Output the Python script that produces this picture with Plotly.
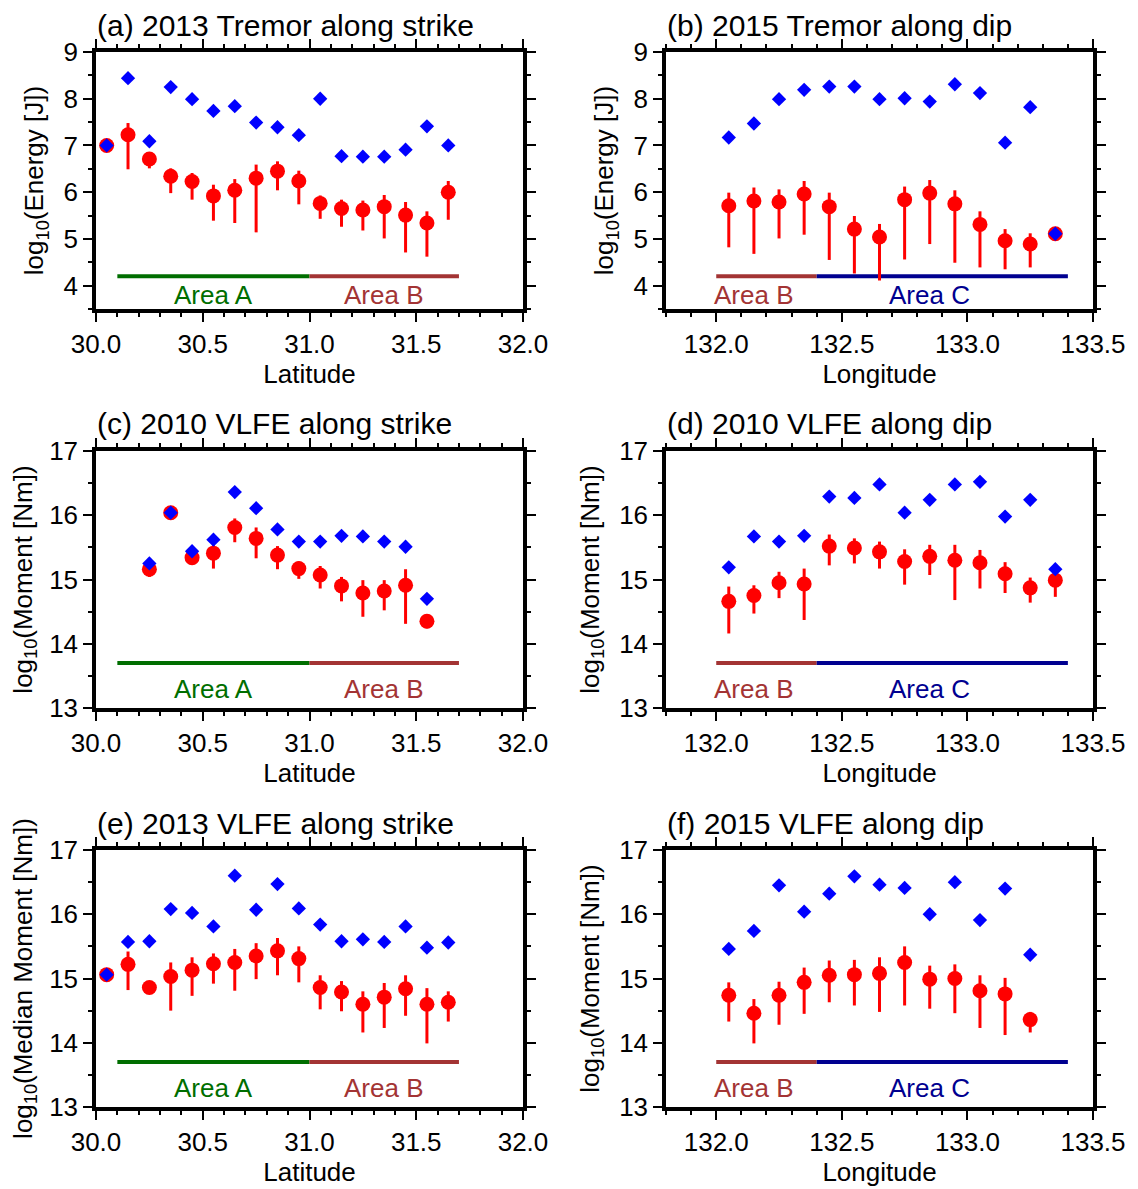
import plotly.graph_objects as go

# ---------------- data ----------------
A_lat = [30.05, 30.15, 30.25, 30.35, 30.45, 30.55, 30.65, 30.75, 30.85, 30.95,
         31.05, 31.15, 31.25, 31.35, 31.45, 31.55, 31.65]
A_med = [7.00, 7.23, 6.71, 6.34, 6.23, 5.92, 6.04, 6.30, 6.45, 6.24, 5.76, 5.65, 5.62, 5.69, 5.51, 5.34, 6.00]
A_hi = [7.00, 7.48, 6.84, 6.51, 6.41, 6.16, 6.28, 6.59, 6.66, 6.46, 5.93, 5.84, 5.82, 5.94, 5.79, 5.59, 6.24]
A_lo = [7.00, 6.49, 6.51, 5.98, 5.84, 5.39, 5.34, 5.14, 6.04, 5.74, 5.43, 5.26, 5.18, 5.01, 4.71, 4.62, 5.41]
A_max = [7.00, 8.44, 7.09, 8.25, 7.99, 7.74, 7.84, 7.49, 7.39, 7.22, 8.00, 6.77, 6.76, 6.76, 6.91, 7.41, 7.00]

B_lon = [132.05, 132.15, 132.25, 132.35, 132.45, 132.55, 132.65, 132.75, 132.85, 132.95,
         133.05, 133.15, 133.25, 133.35]
B_med = [5.71, 5.81, 5.79, 5.96, 5.69, 5.21, 5.04, 5.84, 5.98, 5.75, 5.31, 4.96, 4.89, 5.11]
B_hi = [5.99, 6.10, 6.06, 6.24, 5.99, 5.49, 5.32, 6.12, 6.26, 6.04, 5.59, 5.21, 5.12, 5.11]
B_lo = [4.82, 4.68, 5.01, 5.09, 4.55, 4.26, 4.11, 4.56, 4.89, 4.49, 4.39, 4.35, 4.39, 5.11]
B_max = [7.17, 7.47, 7.99, 8.19, 8.26, 8.26, 7.99, 8.01, 7.94, 8.31, 8.12, 7.06, 7.82, 5.11]

C_lat = [30.25, 30.35, 30.45, 30.55, 30.65, 30.75, 30.85, 30.95, 31.05, 31.15,
         31.25, 31.35, 31.45, 31.55]
C_med = [15.16, 16.04, 15.34, 15.41, 15.81, 15.64, 15.38, 15.17, 15.07, 14.90, 14.79, 14.82, 14.91, 14.35]
C_hi = [15.22, 16.04, 15.43, 15.59, 15.95, 15.81, 15.52, 15.28, 15.21, 15.04, 14.99, 14.99, 15.16, 14.41]
C_lo = [15.04, 16.04, 15.28, 15.17, 15.58, 15.33, 15.16, 15.01, 14.86, 14.66, 14.42, 14.52, 14.31, 14.24]
C_max = [15.25, 16.04, 15.44, 15.62, 16.36, 16.11, 15.78, 15.59, 15.59, 15.68, 15.67, 15.59, 15.51, 14.70]

D_lon = [132.05, 132.15, 132.25, 132.35, 132.45, 132.55, 132.65, 132.75, 132.85, 132.95,
         133.05, 133.15, 133.25, 133.35]
D_med = [14.66, 14.75, 14.95, 14.93, 15.52, 15.49, 15.43, 15.28, 15.36, 15.30, 15.26, 15.09, 14.87, 14.99]
D_hi = [14.89, 14.91, 15.12, 15.17, 15.70, 15.64, 15.59, 15.47, 15.54, 15.54, 15.46, 15.27, 15.03, 15.16]
D_lo = [14.16, 14.47, 14.71, 14.37, 15.22, 15.25, 15.17, 14.92, 15.07, 14.68, 14.86, 14.79, 14.64, 14.73]
D_max = [15.19, 15.67, 15.59, 15.68, 16.29, 16.27, 16.48, 16.04, 16.24, 16.48, 16.52, 15.98, 16.24, 15.16]

E_lat = [30.05, 30.15, 30.25, 30.35, 30.45, 30.55, 30.65, 30.75, 30.85, 30.95,
         31.05, 31.15, 31.25, 31.35, 31.45, 31.55, 31.65]
E_med = [15.06, 15.22, 14.86, 15.03, 15.13, 15.23, 15.25, 15.35, 15.43, 15.31, 14.86, 14.79, 14.60, 14.71, 14.84, 14.60, 14.63]
E_hi = [15.06, 15.42, 14.90, 15.25, 15.33, 15.39, 15.46, 15.55, 15.63, 15.50, 15.05, 14.96, 14.80, 14.93, 15.05, 14.85, 14.80]
E_lo = [15.06, 14.82, 14.77, 14.50, 14.73, 14.92, 14.81, 14.99, 15.05, 14.94, 14.52, 14.49, 14.16, 14.23, 14.42, 13.99, 14.33]
E_max = [15.06, 15.57, 15.58, 16.08, 16.02, 15.81, 16.60, 16.07, 16.47, 16.09, 15.84, 15.58, 15.61, 15.57, 15.81, 15.48, 15.56]

F_lon = [132.05, 132.15, 132.25, 132.35, 132.45, 132.55, 132.65, 132.75, 132.85, 132.95,
         133.05, 133.15, 133.25]
F_med = [14.74, 14.46, 14.74, 14.94, 15.05, 15.06, 15.08, 15.25, 14.99, 15.00, 14.81, 14.76, 14.36]
F_hi = [14.94, 14.68, 14.95, 15.17, 15.28, 15.29, 15.33, 15.50, 15.20, 15.22, 15.05, 15.01, 14.48]
F_lo = [14.33, 13.99, 14.28, 14.45, 14.63, 14.58, 14.48, 14.58, 14.53, 14.46, 14.23, 14.12, 14.16]
F_max = [15.46, 15.74, 16.45, 16.04, 16.32, 16.59, 16.46, 16.41, 16.00, 16.50, 15.91, 16.40, 15.37]

titles = ["(a) 2013 Tremor along strike", "(b) 2015 Tremor along dip",
          "(c) 2010 VLFE along strike", "(d) 2010 VLFE along dip",
          "(e) 2013 VLFE along strike", "(f) 2015 VLFE along dip"]
ytitles = ["log<sub>10</sub>(Energy [J])", "log<sub>10</sub>(Energy [J])",
           "log<sub>10</sub>(Moment [Nm])", "log<sub>10</sub>(Moment [Nm])",
           "log<sub>10</sub>(Median Moment [Nm])", "log<sub>10</sub>(Moment [Nm])"]
xtitles = ["Latitude", "Longitude"] * 3

strike_areas = [("Area A", 30.1, 31.0, 30.55), ("Area B", 31.0, 31.7, 31.35)]
dip_areas = [("Area B", 132.0, 132.4, 132.15), ("Area C", 132.4, 133.4, 132.85)]
area_colors = {"Area A": "#006e00", "Area B": "#a33434", "Area C": "#000090"}

# ---------------- layout geometry ----------------
# the page body has an 8px margin, so the figure is placed 8px in from the corner
OFF = 8
W, H = 1138 - OFF, 1189 - OFF
cols = [(96 - OFF, 523 - OFF), (666 - OFF, 1093 - OFF)]
rows = [(52 - OFF, 309 - OFF), (451 - OFF, 708 - OFF), (850 - OFF, 1107 - OFF)]
FONT = "Liberation Sans, Arial, Helvetica, sans-serif"
FS = 26

panels = [
    (A_lat, A_med, A_hi, A_lo, A_max),
    (B_lon, B_med, B_hi, B_lo, B_max),
    (C_lat, C_med, C_hi, C_lo, C_max),
    (D_lon, D_med, D_hi, D_lo, D_max),
    (E_lat, E_med, E_hi, E_lo, E_max),
    (F_lon, F_med, F_hi, F_lo, F_max),
]

fig = go.Figure()
layout = dict(width=W, height=H, margin=dict(l=0, r=0, t=0, b=0, autoexpand=False),
              paper_bgcolor="white", plot_bgcolor="white", showlegend=False,
              font=dict(family=FONT, size=FS, color="black"))
annotations = []

for i, (xs, med, hi, lo, mx) in enumerate(panels):
    n = i + 1
    r, c = divmod(i, 2)
    xa = "x" if n == 1 else f"x{n}"
    ya = "y" if n == 1 else f"y{n}"
    strike = (c == 0)
    energy = (r == 0)
    yline = 4.2 if energy else 13.7
    ylab = 3.8 if energy else 13.3
    areas = strike_areas if strike else dip_areas

    for name, x0, x1, xc in areas:
        fig.add_trace(go.Scatter(x=[x0, x1], y=[yline, yline], mode="lines",
                                 line=dict(color=area_colors[name], width=4),
                                 xaxis=xa, yaxis=ya, hoverinfo="skip"))
        annotations.append(dict(x=xc, y=ylab, xref=xa, yref=ya, text=name,
                                showarrow=False, xanchor="center", yanchor="middle",
                                font=dict(family=FONT, size=FS, color=area_colors[name])))

    fig.add_trace(go.Scatter(
        x=xs, y=med, mode="markers", xaxis=xa, yaxis=ya,
        marker=dict(symbol="circle", size=15, color="red", line=dict(width=0)),
        error_y=dict(type="data", symmetric=False,
                     array=[h - m for h, m in zip(hi, med)],
                     arrayminus=[m - l for m, l in zip(med, lo)],
                     thickness=3, width=0, color="red")))
    fig.add_trace(go.Scatter(
        x=xs, y=mx, mode="markers", xaxis=xa, yaxis=ya,
        marker=dict(symbol="diamond", size=11, color="blue", line=dict(width=0))))

    px0, px1 = cols[c]
    py0, py1 = rows[r]
    xdom = [px0 / W, px1 / W]
    ydom = [1 - py1 / H, 1 - py0 / H]

    xkey = "xaxis" if n == 1 else f"xaxis{n}"
    ykey = "yaxis" if n == 1 else f"yaxis{n}"
    layout[xkey] = dict(
        domain=xdom, anchor=ya, automargin=False,
        range=[30.0, 32.0] if strike else [131.8, 133.5],
        tick0=30.0 if strike else 132.0, dtick=0.5, tickformat=".1f",
        ticks="outside", ticklen=9, tickwidth=1.5, tickcolor="black",
        showline=True, linewidth=3.5, linecolor="black", mirror="ticks",
        showgrid=False, zeroline=False,
        minor=dict(dtick=0.1, ticks="outside", ticklen=4.5, tickwidth=1.5,
                   tickcolor="black", showgrid=False),
        tickfont=dict(family=FONT, size=FS, color="black"),
        title=dict(text=xtitles[i], font=dict(family=FONT, size=FS, color="black"), standoff=8))
    layout[ykey] = dict(
        domain=ydom, anchor=xa, automargin=False,
        range=[3.5, 9.0] if energy else [13.0, 17.0],
        tick0=0, dtick=1, ticks="outside", ticklen=9, tickwidth=1.5, tickcolor="black",
        showline=True, linewidth=3.5, linecolor="black", mirror="ticks",
        showgrid=False, zeroline=False,
        minor=dict(dtick=0.5, ticks="outside", ticklen=4.5, tickwidth=1.5,
                   tickcolor="black", showgrid=False),
        tickfont=dict(family=FONT, size=FS, color="black"),
        title=dict(text=ytitles[i], font=dict(family=FONT, size=FS, color="black"), standoff=13))

    annotations.append(dict(x=xdom[0], y=ydom[1], xref="paper", yref="paper",
                            text=titles[i], showarrow=False, xanchor="left",
                            yanchor="middle", yshift=27, borderpad=0,
                            font=dict(family=FONT, size=30, color="black")))

layout["annotations"] = annotations
fig.update_layout(**layout)
fig.write_html("out.html")
